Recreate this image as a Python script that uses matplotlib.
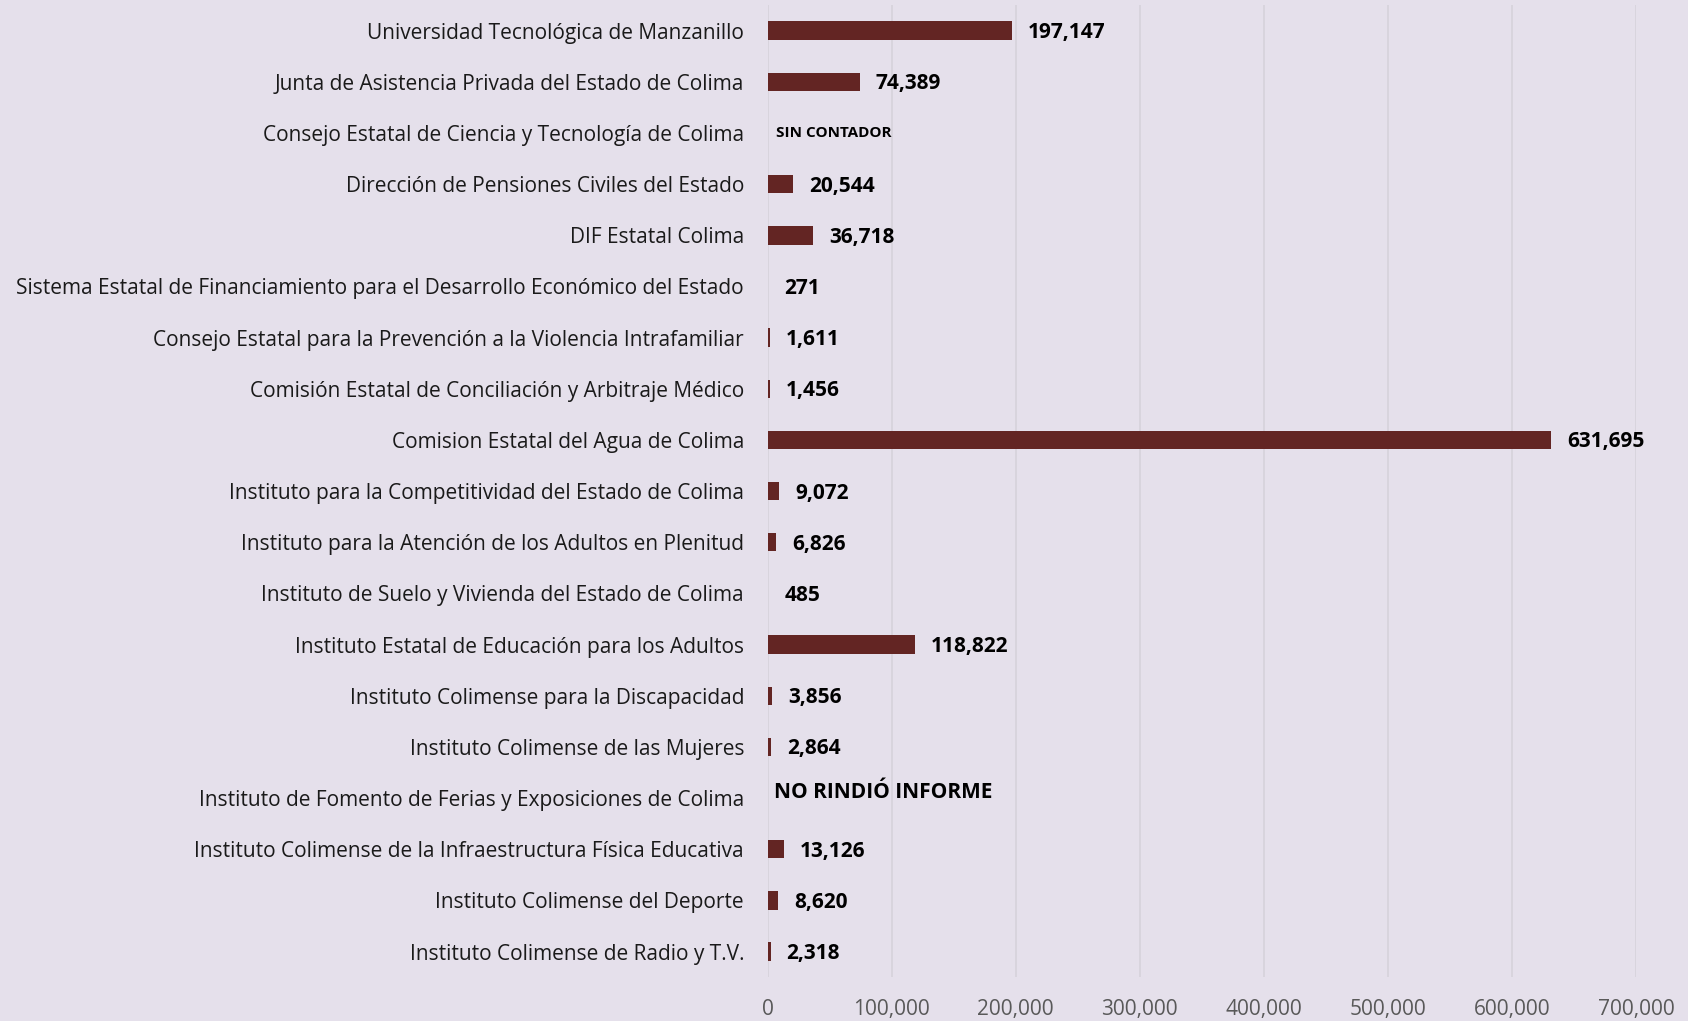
import matplotlib
matplotlib.use("Agg")
import matplotlib.pyplot as plt
from matplotlib.ticker import FuncFormatter

categories = [
    "Universidad Tecnológica de Manzanillo",
    "Junta de Asistencia Privada del Estado de Colima",
    "Consejo Estatal de Ciencia y Tecnología de Colima",
    "Dirección de Pensiones Civiles del Estado",
    "DIF Estatal Colima",
    "Sistema Estatal de Financiamiento para el Desarrollo Económico del Estado",
    "Consejo Estatal para la Prevención a la Violencia Intrafamiliar",
    "Comisión Estatal de Conciliación y Arbitraje Médico",
    "Comision Estatal del Agua de Colima",
    "Instituto para la Competitividad del Estado de Colima",
    "Instituto para la Atención de los Adultos en Plenitud",
    "Instituto de Suelo y Vivienda del Estado de Colima",
    "Instituto Estatal de Educación para los Adultos",
    "Instituto Colimense para la Discapacidad",
    "Instituto Colimense de las Mujeres",
    "Instituto de Fomento de Ferias y Exposiciones de Colima",
    "Instituto Colimense de la Infraestructura Física Educativa",
    "Instituto Colimense del Deporte",
    "Instituto Colimense de Radio y T.V.",
]
visits = [197147, 74389, None, 20544, 36718, 271, 1611, 1456, 631695, 9072,
          6826, 485, 118822, 3856, 2864, None, 13126, 8620, 2318]
notes = {2: "SIN CONTADOR", 15: "NO RINDIÓ INFORME"}
xticks = [0, 100000, 200000, 300000, 400000, 500000, 600000, 700000]

bg = "#E5E0EB"
bar_color = "#632523"
font = "Open Sans"

fig = plt.figure(figsize=(16.88, 10.21), dpi=100, facecolor=bg)
ax = fig.add_axes([0.4548, 0.043, 0.5144, 0.952], facecolor=bg)

ypos = list(range(len(categories)))
bar_y = [i for i, v in zip(ypos, visits) if v is not None]
bar_v = [v for v in visits if v is not None]
ax.barh(bar_y, bar_v, height=0.36, color=bar_color, linewidth=0, zorder=3)

for i, v in enumerate(visits):
    if v is None:
        if i == 2:
            ax.annotate(notes[i], (0, i), xytext=(8, 0), textcoords="offset pixels",
                        va="center", ha="left", fontsize=11, fontweight="bold",
                        family=font, color="black")
        else:
            ax.annotate(notes[i], (0, i), xytext=(6, 6), textcoords="offset pixels",
                        va="center", ha="left", fontsize=15, fontweight="bold",
                        family=font, color="black")
    else:
        ax.annotate(f"{v:,}", (v, i), xytext=(16, -2), textcoords="offset pixels",
                    va="center", ha="left", fontsize=15, fontweight="bold",
                    family=font, color="black")

ax.set_yticks(ypos)
ax.set_yticklabels(categories, family=font, fontsize=15, color="#1a1a1a")
ax.set_ylim(18.5, -0.5)
ax.set_xlim(0, 700000)
ax.set_xticks(xticks)
ax.xaxis.set_major_formatter(FuncFormatter(lambda x, p: f"{int(x):,}"))
for lbl in ax.get_xticklabels():
    lbl.set_family(font)
    lbl.set_fontsize(15)
    lbl.set_color("#595959")
ax.tick_params(axis="y", length=0, pad=17)
ax.tick_params(axis="x", length=0, pad=16)
ax.grid(axis="x", color="#D6D2DB", linewidth=1.2, zorder=0)
for s in ax.spines.values():
    s.set_visible(False)

fig.savefig("out.png", dpi=100, facecolor=bg)
